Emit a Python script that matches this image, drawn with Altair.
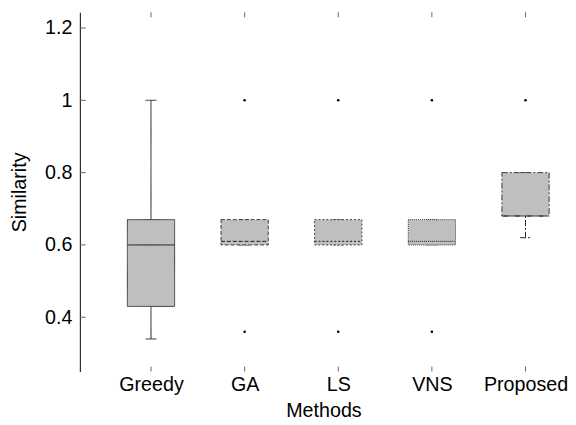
import altair as alt
import pandas as pd

methods = ["Greedy", "GA", "LS", "VNS", "Proposed"]
q1 = [0.43, 0.60, 0.60, 0.60, 0.68]
median = [0.60, 0.61, 0.61, 0.61, 0.68]
q3 = [0.67, 0.67, 0.67, 0.67, 0.80]
whisker_low = [0.34, 0.60, 0.60, 0.60, 0.62]
whisker_high = [1.00, 0.67, 0.67, 0.67, 0.80]

outlier_method = ["GA", "GA", "LS", "LS", "VNS", "VNS", "Proposed"]
outlier_value = [1.00, 0.36, 1.00, 0.36, 1.00, 0.36, 1.00]

y_ticks = [0.4, 0.6, 0.8, 1.0, 1.2]

boxes = pd.DataFrame({
    "method": methods, "q1": q1, "median": median, "q3": q3,
    "lo": whisker_low, "hi": whisker_high,
})
outliers = pd.DataFrame({"method": outlier_method, "value": outlier_value})
ticks = pd.DataFrame({"v": y_ticks})

FONT = "Liberation Sans"
dash_scale = alt.Scale(domain=methods,
                       range=[[1, 0], [4, 2], [2, 2], [1, 1], [6, 2, 2, 2]])
ydom = alt.Scale(domain=[0.25, 1.2435], nice=False, zero=False)
xscale = alt.Scale(type="point", domain=methods, padding=0.6016, align=0.6316)

x_enc = alt.X("method:N", scale=xscale, sort=methods,
              axis=alt.Axis(title="Methods", labelAngle=0, domain=False, ticks=False,
                            labelPadding=3, titlePadding=7))
dash = alt.StrokeDash("method:N", scale=dash_scale, legend=None)

base = alt.Chart(boxes)

whisk_hi = base.mark_rule(color="#222", strokeWidth=1).encode(
    x=x_enc,
    y=alt.Y("q3:Q", scale=ydom,
            axis=alt.Axis(title="Similarity", values=y_ticks, format="~g", ticks=False,
                          domainColor="black", labelPadding=8, titlePadding=15)),
    y2="hi:Q", strokeDash=dash)
whisk_lo = base.mark_rule(color="#222", strokeWidth=1).encode(
    x="method:N", y="lo:Q", y2="q1:Q", strokeDash=dash)
cap_hi = base.mark_rule(color="#222", strokeWidth=1, xOffset=-5.5, x2Offset=5.5).encode(
    x="method:N", x2="method:N", y="hi:Q", strokeDash=dash)
cap_lo = base.mark_rule(color="#222", strokeWidth=1, xOffset=-5.5, x2Offset=5.5).encode(
    x="method:N", x2="method:N", y="lo:Q", strokeDash=dash)
box = base.mark_bar(size=48, fill="#bfbfbf", stroke="#3a3a3a", strokeWidth=1).encode(
    x="method:N", y="q1:Q", y2="q3:Q", strokeDash=dash)
med = base.mark_rule(color="#1a1a1a", strokeWidth=1, xOffset=-24, x2Offset=24).encode(
    x="method:N", x2="method:N", y="median:Q", strokeDash=dash)

pts = alt.Chart(outliers).mark_circle(size=7, color="black", opacity=1).encode(
    x="method:N", y="value:Q")

top_ticks = base.mark_rule(color="#666", strokeWidth=1).encode(
    x="method:N", y=alt.value(0), y2=alt.value(5))
bot_ticks = base.mark_rule(color="#666", strokeWidth=1).encode(
    x="method:N", y=alt.value(365), y2=alt.value(360))
y_tick_marks = alt.Chart(ticks).mark_rule(color="#666", strokeWidth=1).encode(
    y="v:Q", x=alt.value(0), x2=alt.value(6))

chart = alt.layer(
    whisk_hi, whisk_lo, cap_hi, cap_lo, box, med, pts, top_ticks, bot_ticks, y_tick_marks
).properties(
    width=495, height=365, padding={"left": 2, "top": 0, "right": 0, "bottom": 0}
).configure_view(stroke=None).configure_axis(
    labelFont=FONT, titleFont=FONT, labelFontSize=20, titleFontSize=20,
    labelColor="black", titleColor="black", titleFontWeight="normal", grid=False
)

chart.save("out.html", embed_options={"renderer": "svg", "actions": False})
